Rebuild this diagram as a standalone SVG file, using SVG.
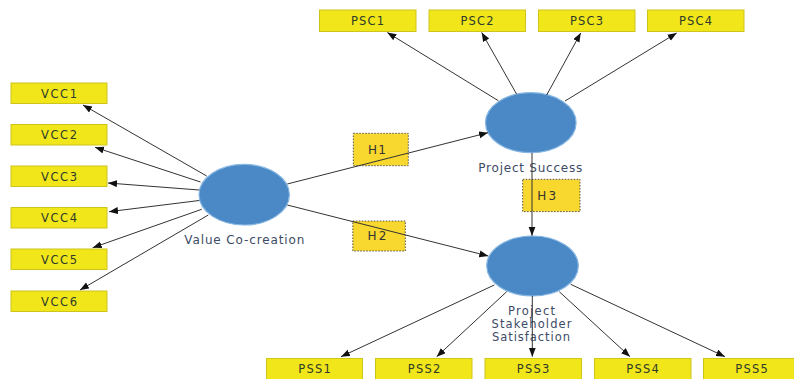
<svg xmlns="http://www.w3.org/2000/svg" width="794" height="379" viewBox="0 0 794 379">
<style>
.ind{fill:#f1e61a;stroke:#cdc41c;stroke-width:1}
.hyp{fill:#f8d72e;stroke:#555;stroke-width:1;stroke-dasharray:1.5 1.5}
.lv{fill:#4a89c6;stroke:#86b6e2;stroke-width:1.2}
.bt{font-family:"DejaVu Sans","Noto Sans",sans-serif;font-size:11.5px;fill:#2f3a2a;text-anchor:middle}
.ht{font-family:"DejaVu Sans","Noto Sans",sans-serif;font-size:12px;fill:#333;text-anchor:middle}
.lt{font-family:"DejaVu Sans","Noto Sans",sans-serif;font-size:12px;fill:#3d4b66;text-anchor:middle}
.ls{font-family:"DejaVu Sans","Noto Sans",sans-serif;font-size:11.5px;fill:#3d4b66;text-anchor:middle}
.c{stroke:#333;stroke-width:1;fill:none;marker-end:url(#ah)}
</style>
<defs>
<marker id="ah" markerUnits="userSpaceOnUse" markerWidth="10" markerHeight="8" refX="9" refY="3.5" orient="auto">
<path d="M0,0 L9,3.5 L0,7 z" fill="#111"/>
</marker>
</defs>
<rect width="794" height="379" fill="#fff"/>

<g id="VCC1"><rect class="ind" x="11" y="83" width="96" height="20.5"/><text class="bt" x="59" y="97.5" textLength="36" lengthAdjust="spacing">VCC1</text></g>
<g id="VCC2"><rect class="ind" x="11" y="124.5" width="96" height="20.5"/><text class="bt" x="59" y="139" textLength="36" lengthAdjust="spacing">VCC2</text></g>
<g id="VCC3"><rect class="ind" x="11" y="166" width="96" height="20.5"/><text class="bt" x="59" y="180.5" textLength="36" lengthAdjust="spacing">VCC3</text></g>
<g id="VCC4"><rect class="ind" x="11" y="207.5" width="96" height="20.5"/><text class="bt" x="59" y="222" textLength="36" lengthAdjust="spacing">VCC4</text></g>
<g id="VCC5"><rect class="ind" x="11" y="249" width="96" height="20.5"/><text class="bt" x="59" y="263.5" textLength="36" lengthAdjust="spacing">VCC5</text></g>
<g id="VCC6"><rect class="ind" x="11" y="291" width="96" height="20.5"/><text class="bt" x="59" y="305.5" textLength="36" lengthAdjust="spacing">VCC6</text></g>

<g id="PSC1"><rect class="ind" x="319.5" y="10" width="96.5" height="21.5"/><text class="bt" x="367.5" y="25.2" textLength="33" lengthAdjust="spacing">PSC1</text></g>
<g id="PSC2"><rect class="ind" x="429" y="10" width="96.5" height="21.5"/><text class="bt" x="477" y="25.2" textLength="33" lengthAdjust="spacing">PSC2</text></g>
<g id="PSC3"><rect class="ind" x="538.5" y="10" width="96.5" height="21.5"/><text class="bt" x="586.5" y="25.2" textLength="33" lengthAdjust="spacing">PSC3</text></g>
<g id="PSC4"><rect class="ind" x="647.5" y="10" width="96.5" height="21.5"/><text class="bt" x="695.5" y="25.2" textLength="33" lengthAdjust="spacing">PSC4</text></g>

<g id="PSS1"><rect class="ind" x="266.5" y="358.5" width="96" height="21"/><text class="bt" x="314.5" y="372.7" textLength="32.5" lengthAdjust="spacing">PSS1</text></g>
<g id="PSS2"><rect class="ind" x="375.5" y="358.5" width="96.5" height="21"/><text class="bt" x="424" y="372.7" textLength="32.5" lengthAdjust="spacing">PSS2</text></g>
<g id="PSS3"><rect class="ind" x="485" y="358.5" width="96.5" height="21"/><text class="bt" x="533" y="372.7" textLength="32.5" lengthAdjust="spacing">PSS3</text></g>
<g id="PSS4"><rect class="ind" x="594.5" y="358.5" width="96.5" height="21"/><text class="bt" x="642.5" y="372.7" textLength="32.5" lengthAdjust="spacing">PSS4</text></g>
<g id="PSS5"><rect class="ind" x="703.5" y="358.5" width="96.5" height="21"/><text class="bt" x="751.5" y="372.7" textLength="32.5" lengthAdjust="spacing">PSS5</text></g>

<g id="ValueCoCreation"><ellipse class="lv" cx="244.2" cy="194.7" rx="45.2" ry="30.3"/><text class="lt" x="244.3" y="244.2" textLength="120" lengthAdjust="spacing">Value Co-creation</text></g>
<g id="ProjectSuccess"><ellipse class="lv" cx="530.8" cy="122.7" rx="45.3" ry="30"/><text class="lt" x="530.3" y="171.8" textLength="104" lengthAdjust="spacing">Project Success</text></g>
<g id="ProjectStakeholderSatisfaction"><ellipse class="lv" cx="532.5" cy="266" rx="45.8" ry="30"/>
<text class="ls" x="531.5" y="315" textLength="47" lengthAdjust="spacing">Project</text>
<text class="ls" x="531.5" y="328" textLength="80" lengthAdjust="spacing">Stakeholder</text>
<text class="ls" x="531" y="341" textLength="78" lengthAdjust="spacing">Satisfaction</text></g>

<g id="H1"><rect class="hyp" x="353.3" y="133.3" width="55" height="32.4"/><text class="ht" x="377" y="153.6" textLength="18" lengthAdjust="spacing">H1</text></g>
<g id="H2"><rect class="hyp" x="352.8" y="221" width="52.5" height="30"/><text class="ht" x="377" y="240.3" textLength="19" lengthAdjust="spacing">H2</text></g>
<g id="H3"><rect class="hyp" x="522.7" y="179.3" width="57.3" height="32.3"/><text class="ht" x="546.7" y="199.6" textLength="19" lengthAdjust="spacing">H3</text></g>

<g id="connectors">
<line class="c" x1="206.7" y1="176" x2="83" y2="105"/>
<line class="c" x1="200.5" y1="182" x2="95" y2="147.3"/>
<line class="c" x1="199.2" y1="190" x2="108" y2="183"/>
<line class="c" x1="199.2" y1="200.5" x2="109" y2="211.7"/>
<line class="c" x1="201.7" y1="209.3" x2="92.7" y2="247.7"/>
<line class="c" x1="208.3" y1="215" x2="80" y2="290"/>

<line class="c" x1="498.3" y1="100.7" x2="387.3" y2="32.5"/>
<line class="c" x1="516.7" y1="94.3" x2="481.7" y2="32.5"/>
<line class="c" x1="546.7" y1="95" x2="580.7" y2="33"/>
<line class="c" x1="565" y1="101" x2="676.7" y2="33"/>

<line class="c" x1="287.3" y1="184" x2="488" y2="132.7"/>
<line class="c" x1="287.3" y1="205" x2="488.3" y2="256"/>
<line class="c" x1="532" y1="152.7" x2="532" y2="235.7"/>

<line class="c" x1="494.3" y1="285" x2="341" y2="356.7"/>
<line class="c" x1="506.7" y1="291.7" x2="436.7" y2="356.7"/>
<line class="c" x1="532.3" y1="296" x2="532.3" y2="356.7"/>
<line class="c" x1="559.3" y1="291.7" x2="630" y2="356.7"/>
<line class="c" x1="570.7" y1="284.3" x2="725" y2="356.7"/>
</g>
</svg>
